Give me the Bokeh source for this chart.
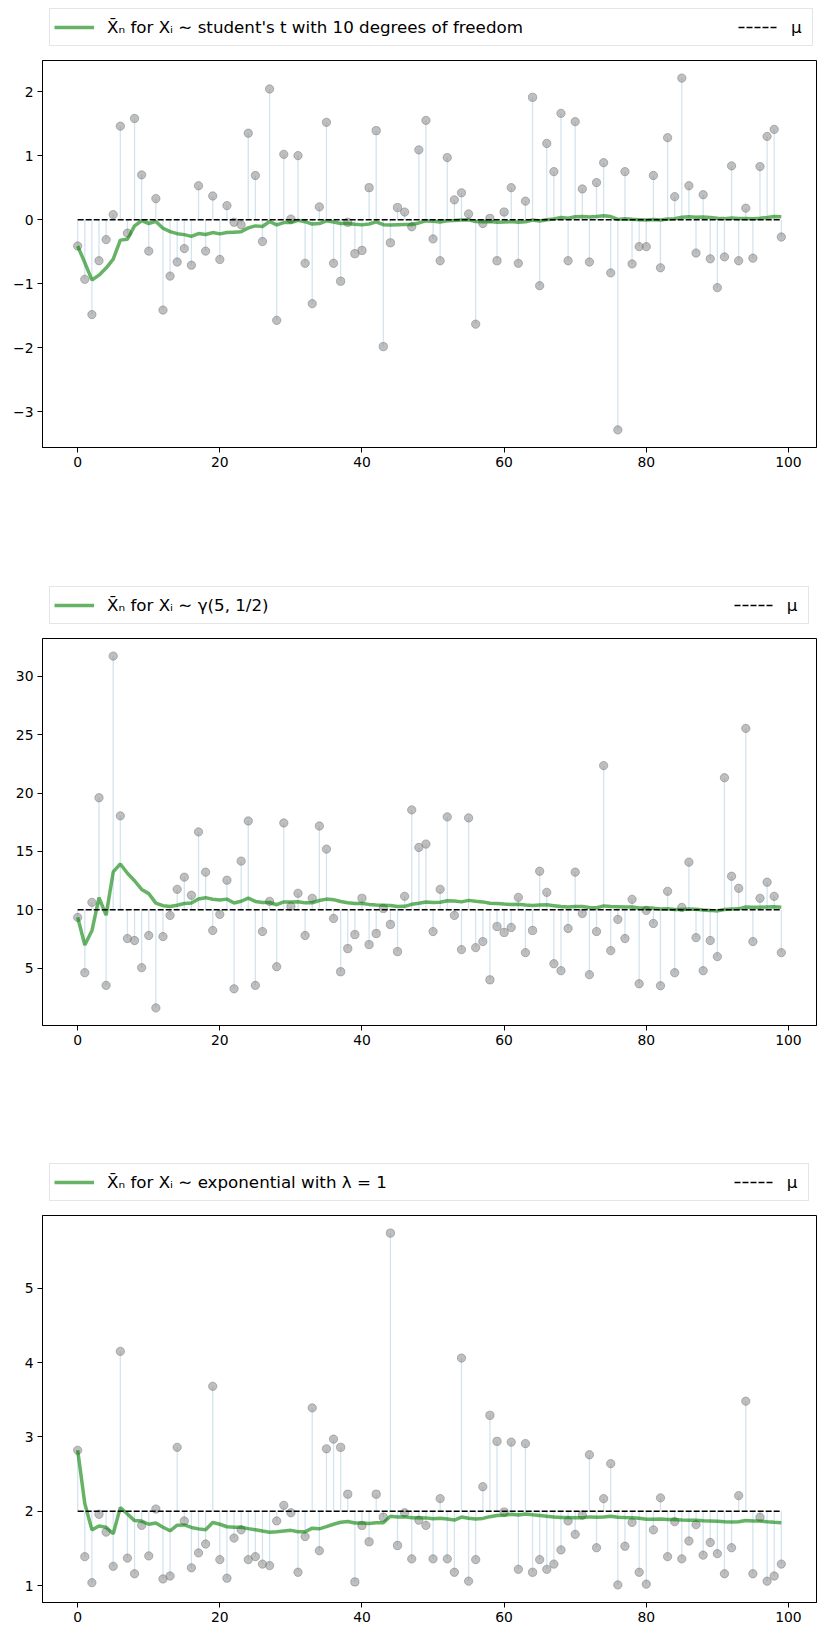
import numpy as np
from bokeh.plotting import figure
from bokeh.models import Range1d, FixedTicker, Legend, LegendItem
from bokeh.layouts import column
from bokeh.embed import file_html
from bokeh.resources import INLINE

# ---------------- data ----------------
t_values = [
    -0.41, -0.93, -1.48, -0.64, -0.31, 0.08, 1.46, -0.21, 1.58, 0.70,
    -0.49, 0.33, -1.41, -0.88, -0.66, -0.45, -0.71, 0.53, -0.49, 0.37,
    -0.62, 0.22, -0.04, -0.08, 1.35, 0.69, -0.34, 2.04, -1.57, 1.02,
    0.01, 1.00, -0.68, -1.31, 0.20, 1.52, -0.68, -0.96, -0.04, -0.53,
    -0.48, 0.50, 1.39, -1.98, -0.36, 0.19, 0.12, -0.11, 1.09, 1.55,
    -0.30, -0.64, 0.97, 0.31, 0.42, 0.09, -1.63, -0.06, 0.02, -0.64,
    0.12, 0.50, -0.68, 0.29, 1.91, -1.03, 1.19, 0.75, 1.66, -0.64,
    1.53, 0.48, -0.66, 0.58, 0.89, -0.83, -3.28, 0.75, -0.69, -0.42,
    -0.42, 0.69, -0.75, 1.28, 0.36, 2.21, 0.53, -0.52, 0.39, -0.61,
    -1.06, -0.58, 0.84, -0.64, 0.18, -0.60, 0.83, 1.30, 1.41, -0.27,
]
gamma_values = [
    9.34, 4.60, 10.63, 19.60, 3.51, 31.75, 18.05, 7.53, 7.36, 5.03,
    7.79, 1.58, 7.70, 9.51, 11.75, 12.79, 11.24, 16.67, 13.22, 8.22,
    9.60, 12.53, 3.22, 14.17, 17.61, 3.51, 8.13, 10.72, 5.11, 17.44,
    10.29, 11.41, 7.79, 10.98, 17.18, 15.20, 9.25, 4.68, 6.67, 7.87,
    10.98, 7.01, 7.96, 10.11, 8.74, 6.41, 11.15, 18.56, 15.34, 15.63,
    8.13, 11.75, 17.96, 9.51, 6.58, 17.87, 6.75, 7.27, 3.99, 8.56,
    8.05, 8.48, 11.06, 6.32, 8.22, 13.30, 11.49, 5.37, 4.77, 8.39,
    13.22, 9.68, 4.43, 8.13, 22.36, 6.49, 9.17, 7.53, 10.89, 3.65,
    9.94, 8.82, 3.48, 11.58, 4.60, 10.20, 14.08, 7.61, 4.77, 7.36,
    5.98, 21.32, 12.87, 11.84, 25.55, 7.27, 10.98, 12.36, 11.15, 6.32,
]
exp_values = [
    2.82, 1.39, 1.04, 1.96, 1.72, 1.26, 4.15, 1.37, 1.16, 1.81,
    1.40, 2.03, 1.09, 1.13, 2.86, 1.87, 1.24, 1.44, 1.56, 3.68,
    1.35, 1.10, 1.64, 1.75, 1.35, 1.39, 1.29, 1.27, 1.87, 2.08,
    1.98, 1.18, 1.66, 3.39, 1.47, 2.84, 2.97, 2.86, 2.23, 1.05,
    1.81, 1.59, 2.23, 1.92, 5.74, 1.54, 1.98, 1.36, 1.88, 1.81,
    1.36, 2.17, 1.36, 1.18, 4.06, 1.06, 1.35, 2.33, 3.29, 2.94,
    1.99, 2.93, 1.22, 2.91, 1.18, 1.35, 1.22, 1.29, 1.48, 1.87,
    1.69, 1.95, 2.76, 1.51, 2.17, 2.64, 1.01, 1.53, 1.85, 1.18,
    1.02, 1.75, 2.18, 1.39, 1.86, 1.36, 1.60, 1.82, 1.41, 1.58,
    1.43, 1.16, 1.51, 2.21, 3.48, 1.16, 1.92, 1.06, 1.13, 1.29,
]
mus = [0, 10, 2]
labels = [
    "X\u0304\u2099 for X\u1d62 \u223c student's t with 10 degrees of freedom",
    "X\u0304\u2099 for X\u1d62 \u223c \u03b3(5, 1/2)",
    "X\u0304\u2099 for X\u1d62 \u223c exponential with \u03bb = 1",
]
mu_label = "\u03bc"
x_ticks = [0, 20, 40, 60, 80, 100]
y_ticks_list = [
    [-3, -2, -1, 0, 1, 2],
    [5, 10, 15, 20, 25, 30],
    [1, 2, 3, 4, 5],
]

# ---------------- layout / style ----------------
FONT = "DejaVu Sans"
FRAME_H = 387
LEG_H = 58
W = 825
LEFT, RIGHT = 42, 9
legend_spacings = [215, 465, 347]   # stretch each legend across the axes width
bottoms = [131, 130, 33]

MEAN_STYLE = dict(line_color="green", line_alpha=0.6, line_width=3.5)
MU_STYLE = dict(line_color="black", line_dash="6 2", line_width=1.5)


def series_parts(vals, mu):
    vals = np.asarray(vals, dtype=float)
    n = len(vals)
    x = np.arange(n)
    running = np.cumsum(vals) / np.arange(1, n + 1)
    return vals, x, running, x[[0, -1]], np.array([mu, mu], dtype=float)


def make_legend_fig(vals, mu, label, spacing):
    vals, x, running, mux, muy = series_parts(vals, mu)
    # legend strip: the same series drawn with view ranges far away from the
    # data, only so the legend can borrow their glyph styles
    lf = figure(width=W, height=LEG_H, x_axis_type=None, y_axis_type=None,
                x_range=Range1d(1e6, 1e6 + 1), y_range=Range1d(1e6, 1e6 + 1),
                min_border_left=LEFT, min_border_right=RIGHT,
                min_border_top=0, min_border_bottom=0,
                output_backend="svg", toolbar_location=None)
    lf.outline_line_color = None
    lf.background_fill_color = "white"
    lf.border_fill_color = "white"
    r1 = lf.line(x, running, **MEAN_STYLE)
    r2 = lf.line(mux, muy, **MU_STYLE)
    legend = Legend(items=[LegendItem(label=label, renderers=[r1]),
                           LegendItem(label=mu_label, renderers=[r2])],
                    orientation="horizontal", location=(7, 12),
                    spacing=spacing, glyph_width=40, glyph_height=28,
                    label_standoff=13, label_width=17, label_height=28,
                    padding=4, margin=0,
                    label_text_font=FONT, label_text_font_size="16.7px",
                    label_text_color="black",
                    border_line_color="#cccccc", border_line_width=1,
                    background_fill_color="white", background_fill_alpha=0.8)
    lf.add_layout(legend, "center")
    return lf


def make_panel(vals, mu, yticks, bottom):
    vals, x, running, mux, muy = series_parts(vals, mu)
    n = len(vals)
    lo, hi = vals.min(), vals.max()
    pad = 0.05 * (hi - lo)
    xpad = 0.05 * (n - 1)
    p = figure(width=W, height=2 + FRAME_H + bottom,
               min_border_left=LEFT, min_border_right=RIGHT,
               min_border_top=2, min_border_bottom=bottom,
               output_backend="svg", toolbar_location=None,
               x_range=Range1d(-xpad, n - 1 + xpad),
               y_range=Range1d(lo - pad, hi + pad))
    p.background_fill_color = "white"
    p.border_fill_color = "white"
    p.xgrid.visible = False
    p.ygrid.visible = False
    p.outline_line_color = "black"
    p.outline_line_width = 1
    p.outline_line_alpha = 1

    p.segment(x0=x, y0=np.full(n, mu), x1=x, y1=vals,
              line_color="#1f77b4", line_alpha=0.2, line_width=1.3)
    p.scatter(x, vals, size=8.3, fill_color="gray", fill_alpha=0.5,
              line_color="gray", line_alpha=0.55)
    p.line(x, running, **MEAN_STYLE)
    p.line(mux, muy, **MU_STYLE)

    p.xaxis.ticker = FixedTicker(ticks=x_ticks)
    p.yaxis.ticker = FixedTicker(ticks=yticks)
    p.yaxis.major_label_overrides = {v: str(v).replace("-", "\u2212") for v in yticks}
    for ax in (p.xaxis[0], p.yaxis[0]):
        ax.major_tick_out = 5
        ax.major_tick_in = 0
        ax.minor_tick_out = 0
        ax.minor_tick_in = 0
        ax.major_tick_line_color = "black"
        ax.axis_line_color = "black"
        ax.major_label_text_font = FONT
        ax.major_label_text_font_size = "13.9px"
        ax.major_label_text_color = "black"
        ax.major_label_standoff = 4
    return p


series = [t_values, gamma_values, exp_values]
parts = []
for vals, mu, label, yt, b, sp in zip(series, mus, labels, y_ticks_list,
                                      bottoms, legend_spacings):
    parts.append(make_legend_fig(vals, mu, label, sp))
    parts.append(make_panel(vals, mu, yt, b))

layout = column(*parts)
open("out.html", "w").write(file_html(layout, INLINE))
